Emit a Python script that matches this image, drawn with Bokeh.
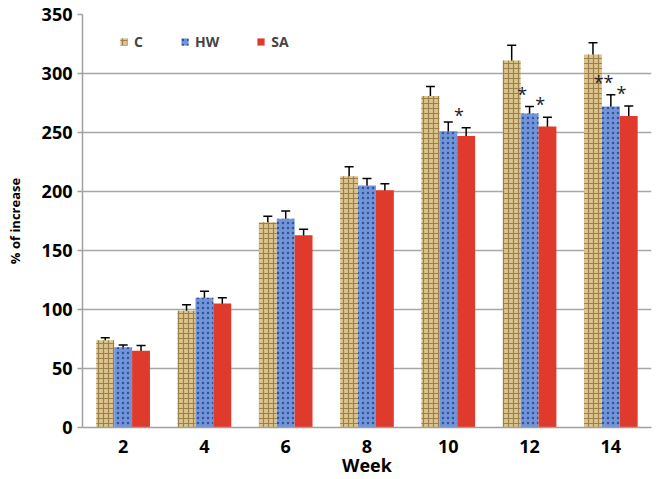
from bokeh.plotting import figure
from bokeh.models import (ColumnDataSource, FactorRange, Whisker, TeeHead, Legend,
                          LegendItem, FixedTicker, Range1d)
from bokeh.transform import dodge
from bokeh.core.properties import value
from bokeh.embed import file_html
from bokeh.resources import INLINE

weeks = ["2", "4", "6", "8", "10", "12", "14"]
series = ["C", "HW", "SA"]
c_mean = [74, 99, 174, 213, 281, 311, 316]
c_err = [2, 5, 5, 8, 8, 13, 10]
hw_mean = [68, 110, 177, 205, 251, 266, 272]
hw_err = [2, 5.5, 6.5, 6, 8, 6, 10]
sa_mean = [65, 105, 163, 201, 247, 255, 264]
sa_err = [4.5, 5, 5, 5.5, 7, 8, 8.5]
y_ticks = [0, 50, 100, 150, 200, 250, 300, 350]

star_week = ["10", "12", "12", "14", "14"]
star_series = ["SA", "HW", "SA", "HW", "SA"]
star_label = ["*", "*", "*", "**", "*"]

FONT = "Open Sans"
means = {"C": c_mean, "HW": hw_mean, "SA": sa_mean}
errs = {"C": c_err, "HW": hw_err, "SA": sa_err}
offsets = {"C": -0.22, "HW": 0.0, "SA": 0.22}
styles = {
    "C": dict(fill_color="#dcc58c", hatch_pattern="cross", hatch_color="#7a5a2a",
              hatch_alpha=0.65, hatch_scale=5, hatch_weight=1.2),
    "HW": dict(fill_color="#7194da", hatch_pattern="dot", hatch_color="#1d3c7c",
               hatch_alpha=0.75, hatch_scale=5, hatch_weight=1.7),
    "SA": dict(fill_color="#e03a2d"),
}

p = figure(width=658, height=479, x_range=FactorRange(*weeks, range_padding=0),
           y_range=Range1d(0, 350), output_backend="svg", toolbar_location=None,
           min_border_left=82, min_border_right=7, min_border_top=14, min_border_bottom=40)
p.outline_line_color = None
p.x_range.range_padding = 0

items = []
for s in series:
    m = means[s]
    e = errs[s]
    src = ColumnDataSource(dict(week=weeks, mean=m,
                                upper=[a + b for a, b in zip(m, e)],
                                lower=[a - b for a, b in zip(m, e)]))
    r = p.vbar(x=dodge("week", offsets[s], range=p.x_range), top="mean", width=0.22,
               source=src, line_color=None, **styles[s])
    items.append(LegendItem(label=s, renderers=[r]))
    w = Whisker(base=dodge("week", offsets[s], range=p.x_range), upper="upper", lower="lower",
                source=src, line_color="black", line_width=1.5,
                upper_head=TeeHead(size=9, line_color="black", line_width=1.5),
                lower_head=TeeHead(size=9, line_color="black", line_width=1.5))
    p.add_layout(w)

for s in series:
    idx = [i for i, ss in enumerate(star_series) if ss == s]
    if not idx:
        continue
    sw = [star_week[i] for i in idx]
    sl = [star_label[i] for i in idx]
    sy = [means[s][weeks.index(w)] + errs[s][weeks.index(w)] + 11 for w in sw]
    ssrc = ColumnDataSource(dict(week=sw, y=sy, label=sl))
    p.text(x=dodge("week", offsets[s] - 0.09, range=p.x_range), y="y", text="label",
           source=ssrc, text_align="center", text_baseline="alphabetic",
           text_font=value(FONT), text_font_size="18px", text_color="#222222")

legend = Legend(items=items, orientation="horizontal", location=(37, 376),
                border_line_color=None, background_fill_alpha=0,
                glyph_width=9, glyph_height=9, label_height=9, label_width=5,
                label_text_font=FONT, label_text_font_size="14px",
                label_text_font_style="bold", label_standoff=6, spacing=37,
                padding=0, margin=0)
p.add_layout(legend)

p.xgrid.grid_line_color = None
p.ygrid.grid_line_color = "#a6a6a6"
p.ygrid.grid_line_width = 1.5
p.yaxis.ticker = FixedTicker(ticks=y_ticks)

for ax in (p.xaxis[0], p.yaxis[0]):
    ax.axis_line_color = "#a0a0a0"
    ax.axis_line_width = 1.5
    ax.major_label_text_font = FONT
    ax.major_label_text_font_size = "18px"
    ax.major_label_text_font_style = "bold"
    ax.major_label_text_color = "black"
    ax.axis_label_text_font = FONT
    ax.axis_label_text_font_style = "bold"
    ax.axis_label_text_color = "black"
    ax.minor_tick_line_color = None

p.yaxis.major_tick_line_color = "#a0a0a0"
p.yaxis.major_tick_line_width = 1.5
p.yaxis.major_tick_out = 5
p.yaxis.major_tick_in = 0
p.yaxis.major_label_standoff = 5
p.yaxis.axis_label = "% of increase"
p.yaxis.axis_label_text_font_size = "13px"
p.yaxis.axis_label_standoff = 15

p.xaxis.major_tick_line_color = None
p.xaxis.major_tick_out = 0
p.xaxis.major_label_standoff = 12
p.xaxis.axis_label = "Week"
p.xaxis.axis_label_text_font_size = "18px"
p.xaxis.axis_label_standoff = -3

open("out.html", "w").write(file_html(p, INLINE))
